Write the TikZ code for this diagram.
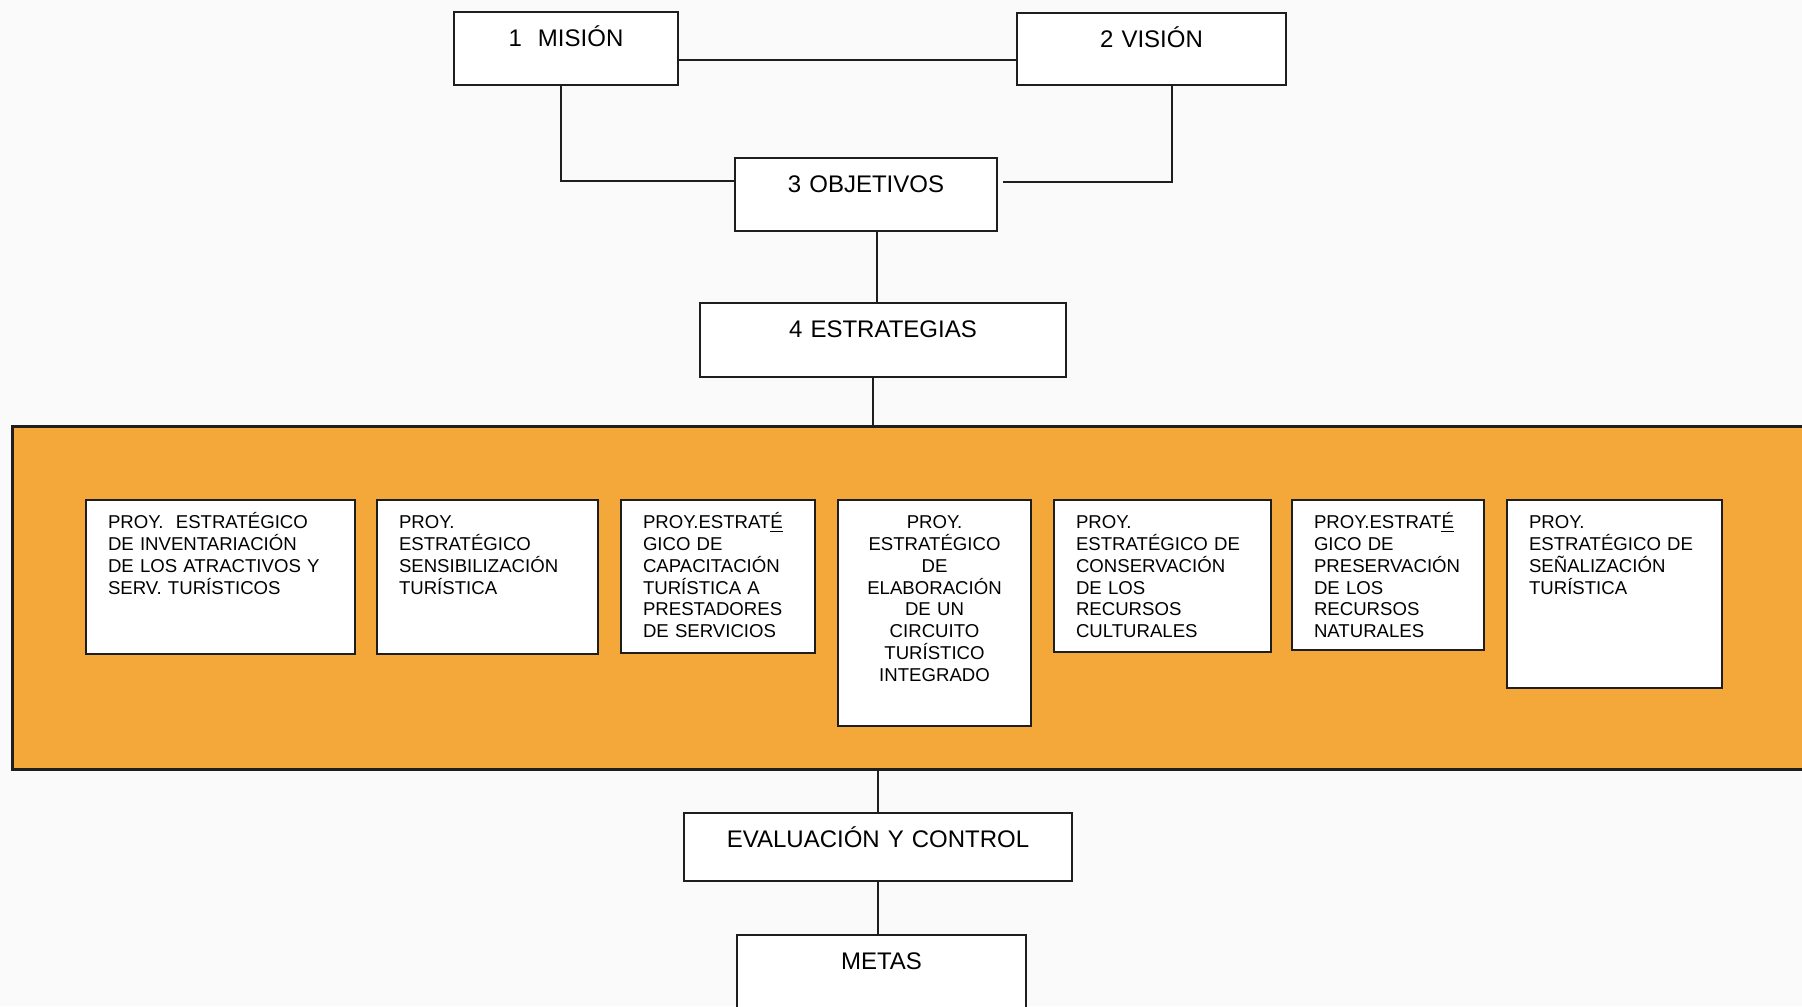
\documentclass[tikz,border=0pt]{standalone}
\usepackage{fontspec}
\setmainfont{Liberation Sans}
\usetikzlibrary{positioning}
\definecolor{fondo}{RGB}{250,250,250}
\definecolor{naranja}{RGB}{244,168,58}
\definecolor{borde}{RGB}{30,30,30}

\begin{document}
\begin{tikzpicture}[
  x=0.5pt, y=-0.5pt,
  caja/.style 2 args={draw=borde, line width=1.2pt, fill=white,
              minimum width=#1, text width=#1-6pt, align=center,
              inner xsep=2pt, inner ysep=8.5pt, text height=8.6pt, text depth=#2,
              font=\fontsize{12}{14}\selectfont, anchor=north},
  proy/.style 2 args={draw=borde, line width=1.2pt, fill=white, outer sep=0pt,
              text width=#1, text depth=#2, align=left,
              inner xsep=11pt, inner ysep=7.5pt, text height=6.8pt,
              font=\fontsize{9.3}{10.9}\selectfont,
              execute at begin node={\hyphenpenalty=10000\relax},
              anchor=north west},
  banda/.style={draw=borde, line width=1.3pt, fill=naranja, inner sep=0pt,
              anchor=north west},
  linea/.style={draw=borde, line width=1pt}
]
  \fill[fondo] (0,0) rectangle (1802,1006);
  \useasboundingbox (0,0) rectangle (1802,1006);

  % Cajas principales
  \node[caja={112pt}{10.9pt}]   (mision)      at (566,11)    {1\ \ MISIÓN};
  \node[caja={134.5pt}{10.4pt}] (vision)      at (1151.5,12) {2 VISIÓN};
  \node[caja={131pt}{10.9pt}]   (objetivos)   at (866,157)   {3 OBJETIVOS};
  \node[caja={183pt}{11.4pt}]   (estrategias) at (883,302)   {4 ESTRATEGIAS};

  % Franja de proyectos
  \node[banda, minimum width=909.5pt, minimum height=171.5pt] (franja) at (11,425) {};

  \node[proy={112.5pt}{55.2pt}] (p1) at (86,500)
       {PROY.\ \ ESTRATÉGICO\\DE INVENTARIACIÓN\\DE LOS ATRACTIVOS Y\\SERV. TURÍSTICOS};
  \node[proy={88.5pt}{55.2pt}, right=11pt of p1.north east, anchor=north west] (p2)
       {PROY.\\ESTRATÉGICO\\SENSIBILIZACIÓN\\TURÍSTICA};
  \node[proy={75pt}{54.7pt}, right=11.5pt of p2.north east, anchor=north west] (p3)
       {PROY.ESTRAT\underline{É}\\GICO DE\\CAPACITACIÓN\\TURÍSTICA A\\PRESTADORES\\DE SERVICIOS};
  \node[proy={74.5pt}{91.2pt}, align=center, right=11.5pt of p3.north east, anchor=north west] (p4)
       {PROY.\\ESTRATÉGICO\\DE\\ELABORACIÓN\\DE UN\\CIRCUITO\\TURÍSTICO\\INTEGRADO};
  \node[proy={86.5pt}{54.2pt}, right=11.5pt of p4.north east, anchor=north west] (p5)
       {PROY.\\ESTRATÉGICO DE\\CONSERVACIÓN\\DE LOS\\RECURSOS\\CULTURALES};
  \node[proy={74pt}{53.2pt}, right=10.5pt of p5.north east, anchor=north west] (p6)
       {PROY.ESTRAT\underline{É}\\GICO DE\\PRESERVACIÓN\\DE LOS\\RECURSOS\\NATURALES};
  \node[proy={85.5pt}{72.2pt}, right=11.5pt of p6.north east, anchor=north west] (p7)
       {PROY.\\ESTRATÉGICO DE\\SEÑALIZACIÓN\\TURÍSTICA};

  % Cierre
  \node[caja={194pt}{8.4pt}]    (evaluacion)  at (878,812)   {EVALUACIÓN Y CONTROL};
  \node[caja={144.5pt}{14.4pt}] (metas)       at (881.5,934) {METAS};

  % Conectores
  \draw[linea] ([yshift=-5.75pt]mision.east) -- ([yshift=-5.75pt]mision.east -| vision.west);
  \draw[linea] ([xshift=-2.5pt]mision.south) |- ([yshift=6.75pt]objetivos.west);
  \draw[linea] ([xshift=10.25pt]vision.south) |- ([xshift=2.5pt,yshift=6.25pt]objetivos.east);
  \draw[linea] ([xshift=5.5pt]objetivos.south) -- ([xshift=5.5pt]objetivos.south |- estrategias.north);
  \draw[linea] ([xshift=-5pt]estrategias.south) -- ([xshift=-5pt]estrategias.south |- franja.north);
  \draw[linea] (evaluacion.north |- franja.south) -- (evaluacion.north);
  \draw[linea] (evaluacion.south) -- (evaluacion.south |- metas.north);
\end{tikzpicture}
\end{document}
